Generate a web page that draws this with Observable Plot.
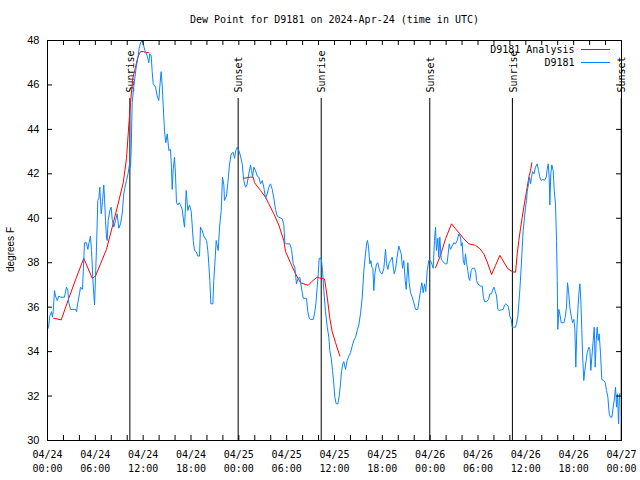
<!DOCTYPE html>
<html><head><meta charset="utf-8">
<script src="https://cdn.jsdelivr.net/npm/d3@7"></script>
<script src="https://cdn.jsdelivr.net/npm/@observablehq/plot@0.6"></script>
<style>body{margin:0;background:#fff}</style>
</head><body><div id="chart"></div>
<script>
const title = "Dew Point for D9181 on 2024-Apr-24 (time in UTC)";
const yLabel = "degrees F";
const seriesNames = ["D9181 Analysis", "D9181"];
const startUTC = "2024-04-24T00:00:00Z";
const spanHours = 72;
const xLabelHours = [0, 6, 12, 18, 24, 30, 36, 42, 48, 54, 60, 66, 72];
const xTickHours = [0,2,4,6,8,10,12,14,16,18,20,22,24,26,28,30,32,34,36,38,40,42,44,46,48,50,52,54,56,58,60,62,64,66,68,70,72];
const yTicks = [30, 32, 34, 36, 38, 40, 42, 44, 46, 48];
const sunLabels = ["Sunrise", "Sunset", "Sunrise", "Sunset", "Sunrise", "Sunset"];
const sunTimes = ["2024-04-24T10:20Z", "2024-04-24T23:55Z", "2024-04-25T10:20Z", "2024-04-25T23:57Z", "2024-04-26T10:19Z", "2024-04-26T23:58Z"];

// D9181 observations: [hours since start, degrees F]
const station = [[0.00,35.0],[0.13,35.1],[0.29,35.6],[0.50,35.8],[0.63,35.55],[0.72,35.8],[0.88,36.75],[1.00,36.5],[1.22,36.3],[1.42,36.5],[1.63,36.45],[2.13,36.45],[2.38,36.9],[2.55,36.75],[2.67,36.2],[2.89,35.9],[3.51,35.9],[3.64,35.8],[3.80,36.2],[4.01,36.6],[4.14,36.9],[4.39,36.8],[4.64,38.9],[4.89,38.9],[5.06,38.6],[5.21,38.9],[5.39,39.2],[5.52,38.55],[5.73,37.0],[5.90,36.1],[6.02,37.35],[6.15,38.7],[6.31,40.8],[6.44,40.9],[6.56,41.4],[6.74,40.2],[6.90,40.75],[7.06,41.5],[7.15,40.9],[7.28,39.9],[7.40,39.1],[7.49,39.0],[7.61,39.9],[7.82,40.35],[7.99,40.5],[8.12,39.95],[8.32,39.6],[8.53,39.9],[8.74,40.2],[8.94,39.55],[9.16,39.75],[9.37,40.2],[9.57,41.1],[9.78,41.5],[9.91,41.7],[10.10,42.0],[10.32,42.5],[10.41,42.3],[10.50,43.1],[10.62,45.2],[10.83,45.95],[10.95,46.3],[11.13,46.8],[11.33,47.2],[11.50,47.65],[11.67,47.9],[11.88,48.0],[12.00,47.85],[12.21,47.55],[12.42,47.4],[12.58,47.2],[12.71,47.0],[12.83,47.4],[13.01,47.3],[13.13,46.6],[13.26,46.05],[13.55,45.9],[13.76,45.5],[13.96,45.3],[14.09,45.95],[14.26,46.6],[14.39,45.95],[14.51,45.1],[14.68,43.9],[14.84,43.4],[15.02,43.8],[15.22,43.05],[15.43,43.1],[15.55,42.3],[15.64,41.3],[15.77,42.2],[15.93,42.75],[16.06,41.9],[16.18,40.7],[16.35,40.6],[16.52,40.7],[16.68,40.6],[16.90,40.4],[17.10,39.8],[17.19,39.6],[17.40,41.25],[17.60,40.35],[17.81,40.6],[18.03,40.3],[18.28,39.0],[18.44,38.55],[18.65,38.5],[18.85,38.3],[19.07,38.3],[19.19,39.6],[19.41,39.45],[19.61,39.2],[19.95,39.0],[20.11,38.55],[20.23,37.95],[20.36,37.2],[20.49,36.15],[20.74,36.15],[20.86,37.2],[21.04,38.25],[21.16,39.0],[21.41,38.55],[21.58,39.6],[21.79,40.35],[21.95,41.85],[22.12,41.5],[22.20,40.8],[22.45,41.0],[22.62,41.6],[22.83,42.4],[23.04,42.9],[23.29,42.97],[23.46,42.7],[23.62,43.05],[23.80,43.2],[24.00,43.05],[24.21,42.8],[24.42,42.45],[24.62,41.7],[24.84,41.4],[25.02,41.5],[25.25,42.0],[25.46,42.4],[25.59,42.15],[25.72,41.85],[25.88,42.3],[26.09,42.15],[26.31,41.9],[26.51,41.85],[26.72,41.55],[26.93,41.7],[27.13,41.4],[27.35,40.9],[27.56,41.1],[27.76,41.4],[27.97,41.55],[28.19,41.3],[28.39,40.9],[28.60,40.4],[28.81,40.1],[29.01,40.05],[29.44,39.98],[29.64,39.7],[29.77,38.9],[29.98,38.85],[30.39,38.85],[30.61,38.6],[30.82,37.95],[31.02,37.8],[31.23,37.05],[31.45,37.3],[31.65,37.35],[31.80,37.0],[31.95,36.65],[32.08,36.4],[32.49,36.4],[32.65,35.8],[32.83,35.5],[32.99,35.45],[33.33,35.45],[33.49,35.7],[33.66,36.15],[33.83,36.9],[33.96,37.5],[34.08,38.2],[34.33,38.2],[34.50,37.65],[34.66,36.75],[34.87,35.8],[35.09,35.1],[35.29,34.65],[35.41,34.05],[35.59,33.7],[35.75,33.15],[35.91,32.55],[36.04,31.95],[36.21,31.65],[36.42,31.65],[36.59,32.0],[36.75,32.55],[36.88,33.1],[37.04,33.45],[37.17,33.55],[37.38,33.2],[37.59,33.6],[37.80,33.8],[38.01,33.95],[38.22,34.25],[38.42,34.5],[38.64,34.65],[38.85,34.95],[39.05,35.2],[39.26,35.7],[39.48,36.45],[39.68,37.65],[39.89,38.4],[40.02,38.85],[40.14,39.0],[40.27,38.7],[40.43,37.95],[40.56,38.1],[40.68,37.8],[40.81,37.75],[40.93,36.75],[41.06,37.5],[41.27,37.95],[41.43,38.0],[41.61,37.7],[41.77,37.55],[41.99,37.5],[42.19,37.75],[42.40,38.6],[42.53,37.95],[42.69,37.7],[42.86,38.0],[43.03,38.1],[43.24,38.25],[43.37,37.8],[43.49,37.5],[43.65,37.7],[43.87,38.3],[44.07,38.75],[44.19,38.6],[44.37,38.4],[44.53,37.75],[44.69,38.1],[44.87,37.2],[45.00,36.8],[45.20,38.0],[45.37,37.1],[45.54,36.65],[45.75,36.45],[45.95,36.2],[46.16,35.9],[46.45,35.9],[46.63,36.35],[46.79,36.75],[46.95,37.1],[47.13,36.65],[47.29,37.05],[47.45,36.7],[47.63,37.65],[47.83,38.1],[48.04,38.1],[48.25,37.9],[48.38,37.75],[48.54,39.0],[48.67,39.6],[48.79,38.55],[48.96,39.1],[49.08,38.25],[49.21,39.15],[49.39,38.15],[49.51,38.1],[49.71,38.0],[49.93,37.95],[50.11,37.95],[50.26,38.4],[50.39,38.85],[50.55,38.6],[50.76,38.75],[50.97,38.9],[51.18,38.85],[51.39,39.0],[51.59,39.3],[51.81,39.15],[51.90,38.75],[52.02,38.9],[52.15,38.1],[52.31,37.9],[52.43,38.4],[52.56,38.0],[52.72,37.65],[52.85,37.3],[52.97,37.2],[53.15,37.65],[53.31,37.75],[53.56,37.75],[53.73,37.55],[53.81,37.2],[53.98,37.05],[54.32,36.95],[54.53,36.95],[54.66,36.5],[54.82,36.25],[55.07,36.25],[55.32,36.35],[55.48,36.6],[55.70,36.6],[55.82,36.75],[55.99,36.9],[56.17,36.7],[56.33,36.5],[56.49,35.9],[56.66,35.85],[57.16,35.9],[57.33,36.1],[57.49,36.15],[57.66,36.1],[57.83,36.0],[57.99,35.6],[58.17,35.45],[58.29,35.1],[58.42,35.1],[58.71,35.1],[58.83,35.25],[59.00,35.6],[59.12,36.15],[59.25,36.8],[59.42,37.8],[59.55,38.7],[59.67,39.45],[59.84,40.05],[59.96,40.5],[60.09,40.8],[60.17,41.2],[60.34,41.55],[60.46,41.85],[60.59,41.55],[60.71,41.85],[60.84,42.1],[61.03,42.0],[61.21,42.3],[61.43,42.45],[61.59,42.15],[61.75,41.85],[61.93,41.7],[62.13,41.75],[62.34,41.7],[62.56,41.85],[62.68,42.2],[62.81,42.45],[62.93,41.85],[63.01,40.6],[63.13,42.0],[63.26,42.4],[63.43,42.15],[63.56,41.25],[63.72,40.65],[63.85,39.0],[63.94,37.2],[64.01,35.0],[64.14,35.9],[64.26,35.7],[64.44,35.3],[64.77,35.3],[64.94,35.55],[65.10,36.0],[65.23,37.1],[65.35,36.75],[65.52,36.0],[65.69,35.6],[65.86,35.3],[66.02,35.45],[66.15,35.0],[66.27,33.3],[66.40,35.0],[66.53,35.9],[66.65,36.6],[66.78,37.05],[66.90,36.3],[67.02,35.0],[67.11,33.9],[67.27,32.7],[67.40,33.15],[67.57,33.6],[67.70,33.95],[67.90,34.2],[68.03,34.1],[68.15,33.15],[68.28,33.75],[68.45,34.5],[68.58,35.1],[68.70,33.3],[68.83,34.5],[68.95,35.1],[69.08,34.5],[69.20,34.8],[69.37,33.9],[69.53,32.75],[69.78,32.7],[69.96,32.6],[70.12,32.25],[70.29,31.95],[70.46,31.2],[70.62,31.05],[70.79,31.05],[70.96,31.5],[71.13,31.95],[71.25,32.4],[71.38,31.5],[71.50,32.1],[71.63,30.75],[71.75,32.1],[71.88,32.1]];

// D9181 Analysis, three separate segments: [hours since start, degrees F]
const analysis1 = [[0.79,35.5],[1.72,35.43],[2.67,36.4],[3.64,37.35],[4.55,38.2],[5.61,37.3],[6.02,37.4],[6.65,37.95],[7.40,38.6],[8.12,39.6],[8.82,40.6],[9.50,41.6],[9.91,42.7],[10.20,44.2],[10.41,45.2],[10.70,46.3],[11.04,46.8],[11.33,47.25],[11.67,47.5],[12.08,47.5],[12.29,47.45],[12.71,47.45]];
const analysis2 = [[24.62,41.8],[25.46,41.85],[25.80,41.85],[25.97,41.6],[26.72,41.25],[27.35,40.95],[27.76,40.65],[28.39,40.2],[29.01,39.7],[29.64,39.0],[29.86,38.5],[30.48,38.0],[31.11,37.5],[31.74,37.1],[32.15,37.05],[32.70,36.98],[33.20,37.17],[33.83,37.35],[34.25,37.3],[34.75,37.27],[35.09,36.45],[35.41,35.5],[35.71,34.9],[36.13,34.4],[36.67,33.8]];
const analysis3 = [[48.67,37.77],[49.30,38.33],[49.93,39.08],[50.68,39.75],[51.18,39.53],[51.72,39.3],[52.22,39.08],[52.85,38.85],[53.69,38.78],[54.23,38.63],[54.73,38.4],[55.16,38.03],[55.70,37.47],[56.20,37.88],[56.74,38.33],[57.24,38.03],[57.74,37.73],[58.29,37.6],[58.71,37.57],[58.92,38.4],[59.12,39.0],[59.33,39.53],[59.55,40.05],[59.75,40.5],[59.96,40.95],[60.17,41.4],[60.38,41.85],[60.59,42.15],[60.75,42.5]];

const T0 = Date.parse(startUTC);
const t = h => new Date(T0 + h * 3600000);
const mono = "DejaVu Sans Mono, monospace";
const sans = "Liberation Sans, Arial, sans-serif";
const RED = "#ff0000", BLUE = "#0a84ff";

const stationData = station.map(([h, v]) => ({time: t(h), value: v}));
const analysisData = [analysis1, analysis2, analysis3].flatMap((seg, i) => seg.map(([h, v]) => ({time: t(h), value: v, seg: i})));
const sunData = sunTimes.map((s, i) => ({time: new Date(s), label: sunLabels[i]}));
const fmt = d3.utcFormat("%m/%d\n%H:%M");

const plot = Plot.plot({
  width: 640, height: 480,
  marginLeft: 47, marginRight: 19, marginTop: 40, marginBottom: 40,
  style: {background: "white", color: "black", overflow: "visible"},
  x: {type: "utc", domain: [t(0), t(spanHours)], axis: null},
  y: {domain: [30, 48], axis: null},
  marks: [
    Plot.ruleX(sunData, {x: "time", insetTop: 58, stroke: "black", strokeWidth: 1}),
    Plot.text(sunData, {x: "time", text: "label", frameAnchor: "top", rotate: -90, textAnchor: "start", lineAnchor: "middle", dx: 1, dy: 52, fontFamily: mono, fontSize: 10, fill: "black"}),
    Plot.line(analysisData, {x: "time", y: "value", z: "seg", stroke: RED, strokeWidth: 1}),
    Plot.line(stationData, {x: "time", y: "value", stroke: BLUE, strokeWidth: 1}),
    Plot.frame({stroke: "black", strokeWidth: 1}),
    Plot.ruleX(xTickHours, {x: t, insetTop: 395, stroke: "black"}),
    Plot.ruleX(xTickHours, {x: t, insetBottom: 395, stroke: "black"}),
    Plot.ruleY(yTicks, {y: d => d, insetRight: 569, stroke: "black"}),
    Plot.ruleY(yTicks, {y: d => d, insetLeft: 569, stroke: "black"}),
    Plot.text(xLabelHours, {x: t, frameAnchor: "bottom", text: h => fmt(t(h)), textAnchor: "middle", lineAnchor: "top", lineHeight: 1.4, dy: 8, fontFamily: mono, fontSize: 10, fill: "black"}),
    Plot.text(yTicks, {y: d => d, frameAnchor: "left", text: d => String(d), textAnchor: "end", lineAnchor: "middle", dx: -8, fontFamily: sans, fontSize: 11, fill: "black"}),
    Plot.text([title], {text: d => d, frameAnchor: "top", textAnchor: "middle", lineAnchor: "middle", dy: -21, fontFamily: mono, fontSize: 10, fill: "black"}),
    Plot.text([yLabel], {text: d => d, frameAnchor: "left", textAnchor: "middle", lineAnchor: "middle", dx: -37, dy: 9, rotate: -90, fontFamily: sans, fontSize: 10, fill: "black"}),
    Plot.text([seriesNames[0]], {text: d => d, frameAnchor: "top-right", dx: -47, dy: 9.5, textAnchor: "end", lineAnchor: "middle", fontFamily: mono, fontSize: 10, fill: "black"}),
    Plot.text([seriesNames[1]], {text: d => d, frameAnchor: "top-right", dx: -47, dy: 22.5, textAnchor: "end", lineAnchor: "middle", fontFamily: mono, fontSize: 10, fill: "black"})
  ]
});

// legend line samples
const svg = d3.select(plot);
const legendRows = [{color: RED, y: 49.5}, {color: BLUE, y: 62.5}];
legendRows.forEach(r => {
  svg.append("line").attr("x1", 581).attr("x2", 610).attr("y1", r.y).attr("y2", r.y)
     .attr("stroke", r.color).attr("stroke-width", 1);
});
document.getElementById("chart").appendChild(plot);
</script>
</body></html>
